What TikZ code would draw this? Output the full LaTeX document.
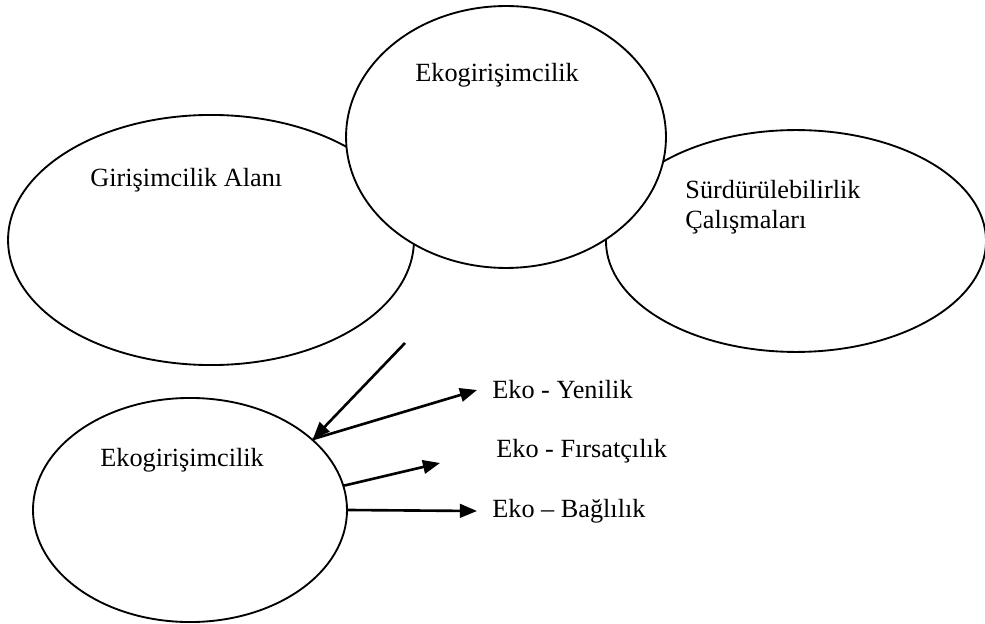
\documentclass[tikz,border=0pt]{standalone}
\usepackage{fontspec}
\setmainfont{Liberation Serif}
\usetikzlibrary{arrows.meta,shapes.geometric}

\begin{document}
\begin{tikzpicture}[
  x=0.457pt,y=-0.457pt,
  font=\fontsize{12}{13.8}\selectfont,
  area/.style={draw=black,fill=white,ellipse,inner sep=0pt,line width=.85pt},
  caption/.style={anchor=west,inner sep=0pt,align=left},
  result/.style={anchor=west,inner sep=0pt,outer xsep=7pt},
  link/.style={-{Triangle[length=7.8pt,width=6.2pt]},line width=1.2pt}
]
  \useasboundingbox (0,0) rectangle (985,624);

  \node[area,minimum width=185.5pt,minimum height=114.3pt] (field) at (211,240) {};
  \node[area,minimum width=173.7pt,minimum height=101.4pt] (sustain) at (796,241) {};
  \node[area,minimum width=146.2pt,minimum height=119.7pt] (eco) at (506,137) {};
  \node[area,minimum width=143.5pt,minimum height=102.4pt] (ecobottom) at (190,510) {};

  \node[caption] (fieldtext) at (90,180) {Girişimcilik Alanı};
  \node[caption] (ecotext) at (415,75) {Ekogirişimcilik};
  \node[caption] (sustaintext) at (685,207) {Sürdürülebilirlik\\Çalışmaları};
  \node[caption] (ecobottomtext) at (100,460) {Ekogirişimcilik};

  \node[result] (yenilik) at (477,390) {Eko - Yenilik};
  \node[result] (firsat) at (481,451) {Eko - Fırsatçılık};
  \node[result] (baglilik) at (477,511) {Eko – Bağlılık};

  \coordinate (start) at (405,343);
  \coordinate (firsatend) at (440,463);

  \draw[link] (start) -- (ecobottom.30);
  \draw[link] (ecobottom.30) -- (yenilik.west);
  \draw[link] (ecobottom.9) -- (firsatend);
  \draw[link] (ecobottom.0) -- (baglilik.west);
\end{tikzpicture}
\end{document}
